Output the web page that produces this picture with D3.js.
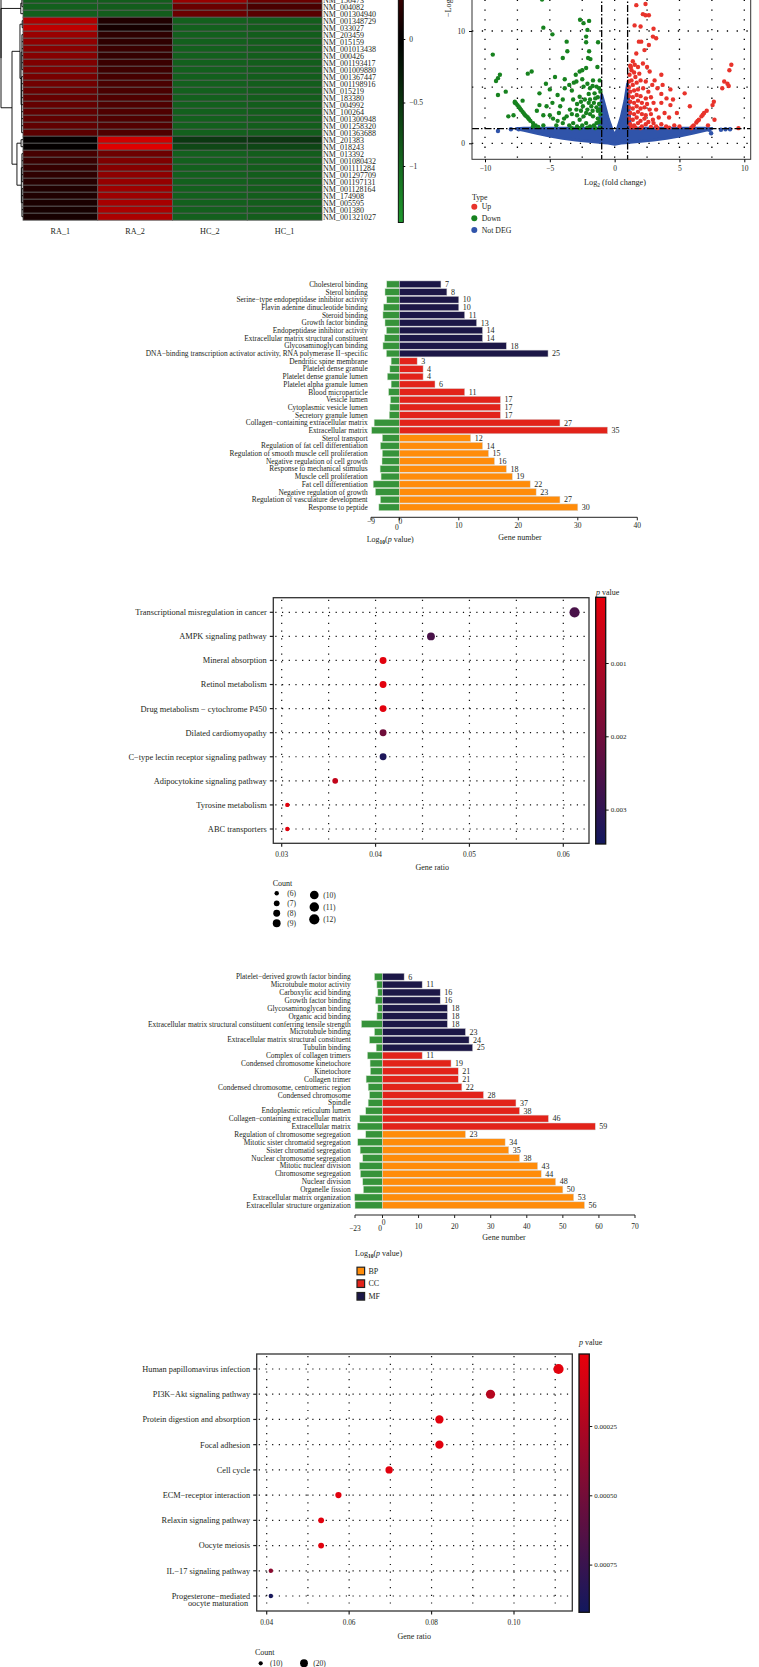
<!DOCTYPE html>
<html><head><meta charset="utf-8">
<script src="https://cdn.jsdelivr.net/npm/d3@7"></script>
<style>
body{margin:0;background:#fff}
svg{display:block}
text{font-family:"Liberation Serif",serif;fill:#231f20}
</style>
</head><body>
<svg id="c" width="759" height="1667"></svg>
<script>
// ================= DATA =================
// Heatmap
const heatCols = ["RA_1","RA_2","HC_2","HC_1"];
const heatGenes = ["NM_150473","NM_004082","NM_001304940","NM_001348729","NM_033027","NM_203459","NM_015159","NM_001013438","NM_000426","NM_001193417","NM_001009880","NM_001367447","NM_001198916","NM_015219","NM_183380","NM_004992","NM_100264","NM_001300948","NM_001258320","NM_001363688","NM_201383","NM_018243","NM_013392","NM_001080432","NM_001111284","NM_001297709","NM_001197131","NM_001128164","NM_174908","NM_005595","NM_001380","NM_001321027"];
const heatRA1 = [-0.9,-0.9,-0.9,1.0,1.08,0.87,0.82,0.78,0.76,0.72,0.72,0.68,0.64,0.6,0.58,0.57,0.55,0.55,0.55,0.52,0.02,0.02,0.4,0.33,0.3,0.27,0.22,0.18,0.18,0.15,0.13,0.13];
const heatRA2 = [-0.88,-0.88,-0.88,0.18,0.12,0.27,0.27,0.33,0.3,0.33,0.36,0.4,0.42,0.42,0.45,0.45,0.45,0.45,0.48,0.45,1.18,1.27,0.62,0.72,0.76,0.8,0.85,0.9,0.9,0.95,0.97,0.97];
const heatHC2 = [0.87,0.6,0.6,-0.9,-0.9,-0.9,-0.9,-0.9,-0.9,-0.9,-0.9,-0.9,-0.9,-0.9,-0.9,-0.9,-0.9,-0.9,-0.9,-0.9,-0.53,-0.68,-0.9,-0.9,-0.9,-0.9,-0.9,-0.9,-0.9,-0.9,-0.9,-0.9];
const heatHC1 = [0.6,0.42,0.5,-0.88,-0.88,-0.88,-0.88,-0.88,-0.88,-0.88,-0.88,-0.88,-0.88,-0.88,-0.88,-0.88,-0.88,-0.88,-0.88,-0.88,-0.5,-0.66,-0.88,-0.88,-0.88,-0.88,-0.88,-0.88,-0.88,-0.88,-0.88,-0.88];
const heatTicks = [0,-0.5,-1];
const heatTree = {h:4,c:[{h:0.4,c:[{h:0.2,c:[0,1]},2]},{h:2,c:[{h:0.55,c:[{h:0.15,c:[3,4]},{h:0.35,c:[{h:0.2,c:[5,6,7,8,9,10]},{h:0.25,c:[11,12,13,14,15,16,17,18,19]}]}]},{h:1.1,c:[{h:0.35,c:[20,21]},{h:0.3,c:[{h:0.2,c:[22,23,24,25,26]},{h:0.2,c:[27,28,29,30,31]}]}]}]}]};

// Volcano
const volcXTicks = [-10,-5,0,5,10];
const volcXMinor = [-7.5,-2.5,2.5,7.5];
const volcYTicks = [0,10];
const volcYMinor = [5];
const volcTypes = ["Up","Down","Not DEG"];
const upPts = [[1.67,12.3],[2.38,12.4],[2.18,11.5],[2.38,11.4],[2.64,11.4],[1.54,10.5],[2.0,10.4],[3.0,10.2],[2.95,9.5],[3.2,9.35],[1.87,9.05],[2.05,9.05],[1.67,8.0],[2.3,8.3],[2.64,8.75],[1.4,7.3],[1.8,6.8],[2.18,7.1],[1.55,7.0],[1.2,6.9],[1.3,6.5],[1.15,6.1],[1.5,6.3],[1.9,6.2],[2.7,6.4],[3.08,5.6],[3.6,6.1],[3.7,5.2],[4.3,4.8],[5.4,4.45],[5.8,3.3],[4.0,4.0],[4.5,3.9],[3.6,3.6],[3.2,3.0],[3.85,2.7],[2.95,2.1],[3.2,1.5],[3.97,1.5],[9.0,7.0],[8.85,6.5],[8.45,5.5],[8.7,5.3],[8.8,5.1],[8.3,4.9],[7.65,3.7],[7.55,3.4],[7.7,2.1],[7.2,1.6],[9.55,1.35],[5.9,1.35],[6.1,1.6],[6.3,1.85],[6.5,2.1],[6.7,2.4],[6.9,2.7],[7.1,2.9],[6.0,1.5],[6.4,2.0],[6.8,2.55],[1.1,5.5],[1.3,5.6],[1.1,5.0],[1.4,5.2],[1.7,5.4],[2.0,5.6],[2.4,5.5],[1.2,4.6],[1.5,4.7],[1.8,4.8],[2.2,4.9],[2.6,4.6],[1.1,4.2],[1.4,4.1],[1.7,4.3],[2.0,4.2],[2.4,4.0],[2.8,4.1],[1.2,3.7],[1.5,3.6],[1.8,3.8],[2.1,3.6],[2.5,3.5],[3.0,3.6],[1.1,3.2],[1.4,3.1],[1.7,3.3],[2.0,3.1],[2.3,3.2],[2.7,3.0],[1.2,2.7],[1.5,2.6],[1.8,2.8],[2.1,2.6],[2.4,2.5],[2.8,2.6],[3.4,2.3],[1.1,2.2],[1.4,2.1],[1.7,2.3],[2.0,2.0],[2.3,2.2],[2.6,1.9],[3.0,1.8],[1.2,1.7],[1.5,1.6],[1.8,1.8],[2.1,1.5],[2.4,1.7],[2.8,1.45],[3.6,1.7],[4.2,1.4],[4.6,1.6],[5.0,1.5],[1.3,1.4],[1.6,1.4],[2.0,1.35],[3.3,1.35],[4.3,3.4],[4.8,2.7],[4.2,2.3],[3.6,4.4],[3.3,4.9],[2.9,5.2],[1.6,5.9],[1.25,6.8],[2.5,6.8]];
const downPts = [[-5.6,12.8],[-5.5,10.3],[-4.8,9.7],[-9.4,7.9],[-4.0,7.6],[-3.7,9.05],[-3.65,8.2],[-2.67,11.0],[-2.4,10.7],[-1.97,10.9],[-2.1,10.1],[-2.2,9.5],[-2.2,9.0],[-1.97,8.2],[-1.87,7.5],[-2.05,7.6],[-1.28,9.0],[-1.33,6.8],[-6.7,6.2],[-6.4,6.4],[-8.85,6.1],[-9.0,5.8],[-9.15,5.55],[-8.4,4.6],[-9.0,4.3],[-8.2,2.4],[-7.8,2.5],[-7.1,3.8],[-7.7,3.6],[-5.3,5.3],[-4.6,5.9],[-3.85,5.7],[-5.8,4.45],[-5.25,3.3],[-5.5,2.5],[-5.0,2.5],[-5.5,1.6],[-4.75,2.2],[-4.2,3.3],[-4.0,3.9],[-3.85,4.9],[-3.3,4.7],[-3.15,5.4],[-2.95,5.5],[-2.7,6.4],[-2.5,6.5],[-2.2,6.7],[-2.4,5.05],[-2.7,4.15],[-3.2,3.9],[-3.45,3.0],[-3.7,2.4],[-2.95,3.0],[-2.45,3.3],[-1.9,3.9],[-1.55,4.45],[-1.4,5.05],[-1.15,5.6],[-1.67,5.6],[-1.9,4.9],[-2.2,2.7],[-1.67,2.4],[-2.7,2.1],[-2.2,1.8],[-1.4,1.8],[-1.15,3.0],[-3.2,1.8],[-4.0,1.8],[-6.3,1.5],[-7.7,3.7],[-7.5,3.4],[-7.3,3.1],[-7.1,2.8],[-6.9,2.5],[-6.7,2.3],[-6.5,2.0],[-6.3,1.8],[-6.1,1.6],[-5.9,1.45],[-7.6,3.55],[-7.4,3.25],[-7.2,2.95],[-7.0,2.65],[-6.8,2.4],[-6.6,2.15],[-1.1,4.6],[-1.3,4.1],[-1.6,3.6],[-1.2,3.5],[-1.4,3.2],[-1.8,3.3],[-2.0,3.6],[-2.3,3.9],[-2.6,3.7],[-2.9,3.5],[-1.1,2.6],[-1.3,2.2],[-1.9,2.6],[-2.4,2.4],[-2.9,2.5],[-3.3,2.6],[-1.2,1.9],[-1.6,1.6],[-1.9,1.5],[-2.5,1.6],[-2.9,1.5],[-3.5,1.6],[-3.9,2.2],[-4.4,2.0],[-4.5,1.6],[-1.1,1.4],[-1.5,1.35],[-2.1,1.4],[-2.7,1.35],[-3.3,1.35],[-1.3,2.9],[-1.7,2.9],[-2.1,3.0],[-2.6,2.9],[-1.5,4.0],[-2.0,4.4],[-1.2,4.9],[-1.7,5.1],[-2.1,5.3],[-2.5,5.7],[-3.0,6.1],[-3.5,5.2],[-4.4,4.3],[-4.8,3.6],[-5.0,4.8],[-6.0,2.9],[-5.8,3.4],[-4.3,2.7]];
const notDegPts = [[-9.0,1.1],[-8.0,1.25],[7.44,0.9],[8.2,1.2],[8.55,1.25],[8.9,1.25],[-7.4,1.25],[7.3,1.2]];
const ndX    = [-7.6,-7.0,-6.0,-5.0,-4.0,-3.0,-2.0,-1.2,-1.0,-0.8,-0.5,-0.2,0,0.2,0.5,0.8,1.0,1.2,2.0,3.0,4.0,5.0,6.0,7.0,7.5];
const ndLow  = [1.3,1.15,0.9,0.65,0.45,0.3,0.18,0.1,0.08,0.05,0.02,-0.05,-0.08,-0.05,0.02,0.05,0.08,0.1,0.18,0.3,0.45,0.65,0.9,1.15,1.3];
const ndHigh = [1.3,1.35,1.35,1.35,1.35,1.35,1.35,1.35,4.3,3.5,2.2,1.2,0.7,1.2,2.3,3.8,5.3,1.35,1.35,1.35,1.35,1.35,1.35,1.35,1.3];
const fcCut = [-1,1];
const pCut = 1.3;

// GO panel 1
const go1Terms = ["Cholesterol binding","Sterol binding","Serine\u2212type endopeptidase inhibitor activity","Flavin adenine dinucleotide binding","Steroid binding","Growth factor binding","Endopeptidase inhibitor activity","Extracellular matrix structural constituent","Glycosaminoglycan binding","DNA\u2212binding transcription activator activity, RNA polymerase II\u2212specific","Dendritic spine membrane","Platelet dense granule","Platelet dense granule lumen","Platelet alpha granule lumen","Blood microparticle","Vesicle lumen","Cytoplasmic vesicle lumen","Secretory granule lumen","Collagen\u2212containing extracellular matrix","Extracellular matrix","Sterol transport","Regulation of fat cell differentiation","Regulation of smooth muscle cell proliferation","Negative regulation of cell growth","Response to mechanical stimulus","Muscle cell proliferation","Fat cell differentiation","Negative regulation of growth","Regulation of vasculature development","Response to peptide"];
const go1Counts = [7,8,10,10,11,13,14,14,18,25,3,4,4,6,11,17,17,17,27,35,12,14,15,16,18,19,22,23,27,30];
const go1LogP = [-4.0,-4.55,-4.0,-5.0,-5.2,-4.55,-4.1,-4.7,-5.2,-4.1,-2.6,-3.0,-3.8,-2.6,-3.4,-2.8,-3.0,-3.2,-8.0,-8.8,-5.4,-6.0,-5.4,-5.5,-6.1,-5.8,-8.3,-7.6,-6.0,-6.5];
const go1Ont = ["MF","MF","MF","MF","MF","MF","MF","MF","MF","MF","CC","CC","CC","CC","CC","CC","CC","CC","CC","CC","BP","BP","BP","BP","BP","BP","BP","BP","BP","BP"];
const go1LeftTicks = [-9,0];
const go1RightTicks = [0,10,20,30,40];

// GO panel 2
const go2Terms = ["Platelet\u2212derived growth factor binding","Microtubule motor activity","Carboxylic acid binding","Growth factor binding","Glycosaminoglycan binding","Organic acid binding","Extracellular matrix structural constituent conferring tensile strength","Microtubule binding","Extracellular matrix structural constituent","Tubulin binding","Complex of collagen trimers","Condensed chromosome kinetochore","Kinetochore","Collagen trimer","Condensed chromosome, centromeric region","Condensed chromosome","Spindle","Endoplasmic reticulum lumen","Collagen\u2212containing extracellular matrix","Extracellular matrix","Regulation of chromosome segregation","Mitotic sister chromatid segregation","Sister chromatid segregation","Nuclear chromosome segregation","Mitotic nuclear division","Chromosome segregation","Nuclear division","Organelle fission","Extracellular matrix organization","Extracellular structure organization"];
const go2Counts = [6,11,16,16,18,18,18,23,24,25,11,19,21,21,22,28,37,38,46,59,23,34,35,38,43,44,48,50,53,56];
const go2LogP = [-6.7,-4.7,-3.9,-5.9,-3.9,-4.7,-17.6,-6.7,-10.9,-5.3,-12.6,-10.4,-10.1,-13.7,-12.0,-10.9,-12.0,-14.0,-19.0,-21.0,-14.0,-20.7,-18.7,-16.5,-19.3,-18.5,-16.5,-16.0,-23.3,-23.0];
const go2Ont = go1Ont.slice();
const go2LeftTicks = [-23,0];
const go2RightTicks = [0,10,20,30,40,50,60,70];
const goLegend = ["BP","CC","MF"];

// KEGG panel 1
const kegg1Terms = ["Transcriptional misregulation in cancer","AMPK signaling pathway","Mineral absorption","Retinol metabolism","Drug metabolism \u2212 cytochrome P450","Dilated cardiomyopathy","C\u2212type lectin receptor signaling pathway","Adipocytokine signaling pathway","Tyrosine metabolism","ABC transporters"];
const kegg1Ratio = [0.0612,0.0459,0.0408,0.0408,0.0408,0.0408,0.0408,0.0357,0.0306,0.0306];
const kegg1Count = [12,9,8,8,8,8,8,7,6,6];
const kegg1P = [0.0026,0.0026,0.0002,0.0002,0.0002,0.0020,0.0033,0.0007,0.0002,0.0002];
const kegg1XTicks = [0.03,0.04,0.05,0.06];
const kegg1XMinor = [0.035,0.045,0.055];
const kegg1PTicks = [0.001,0.002,0.003];
const kegg1LegendCounts = [6,7,8,9,10,11,12];

// KEGG panel 2
const kegg2Terms = ["Human papillomavirus infection","PI3K\u2212Akt signaling pathway","Protein digestion and absorption","Focal adhesion","Cell cycle","ECM\u2212receptor interaction","Relaxin signaling pathway","Oocyte meiosis","IL\u221217 signaling pathway","Progesterone\u2212mediated|oocyte maturation"];
const kegg2Ratio = [0.1108,0.0943,0.0819,0.0819,0.0697,0.0574,0.0532,0.0532,0.0410,0.0410];
const kegg2Count = [27,23,20,20,17,14,13,13,10,10];
const kegg2P = [0.00002,0.00022,0.00003,0.00003,0.00003,0.00003,0.00003,0.00003,0.0004,0.0009];
const kegg2XTicks = [0.04,0.06,0.08,0.10];
const kegg2XMinor = [0.05,0.07,0.09,0.11];
const kegg2PTicks = [0.00025,0.0005,0.00075];
const kegg2LegendCounts = [10,20];

// ================= DRAW =================
const svg = d3.select("#c");
const defs = svg.append("defs");
const minus = s => String(s).replace("-","\u2212");

// ---------- Heatmap ----------
(function(){
  const g = svg.append("g");
  const hx = d3.scaleBand().domain(heatCols).range([23,322]);
  const rowH = 7.0, top = -3.8;
  const hy = d3.scaleBand().domain(d3.range(heatGenes.length)).range([top, top + rowH*heatGenes.length]);
  const hColor = d3.scaleLinear().domain([-1.45,0,1.45]).range(["#1f9a2e","#000000","#ff0000"]).clamp(true);
  const vals = [heatRA1,heatRA2,heatHC2,heatHC1];
  heatCols.forEach((c,ci)=>{
    g.selectAll(null).data(vals[ci]).enter().append("rect")
      .attr("x",hx(c)).attr("y",(d,i)=>hy(i)).attr("width",hx.bandwidth()).attr("height",hy.bandwidth())
      .attr("fill",d=>hColor(d)).attr("stroke","#5a5a5a").attr("stroke-width",0.8);
  });
  g.selectAll(null).data(heatGenes).enter().append("text")
    .attr("x",323).attr("y",(d,i)=>hy(i)+hy.bandwidth()/2).attr("dy","0.35em")
    .attr("font-size",8).text(d=>d);
  g.selectAll(null).data(heatCols).enter().append("text")
    .attr("x",d=>hx(d)+hx.bandwidth()/2).attr("y",231).attr("dy","0.35em")
    .attr("text-anchor","middle").attr("font-size",8.2).text(d=>d);
  const dx = d3.scaleLinear().domain([0,4]).range([23,1]);
  function node(n){
    if (typeof n === "number") return {x:hx.range()[0], y:hy(n)+hy.bandwidth()/2};
    const ch = n.c.map(node);
    const x = dx(n.h), y = d3.mean(ch,d=>d.y);
    g.append("line").attr("x1",x).attr("x2",x).attr("y1",d3.min(ch,d=>d.y)).attr("y2",d3.max(ch,d=>d.y)).attr("stroke","#000").attr("stroke-width",0.9);
    ch.forEach(c=> g.append("line").attr("x1",x).attr("x2",c.x).attr("y1",c.y).attr("y2",c.y).attr("stroke","#000").attr("stroke-width",0.9));
    return {x,y};
  }
  const r = node(heatTree);
  g.append("line").attr("x1",r.x).attr("x2",r.x).attr("y1",-10).attr("y2",r.y).attr("stroke","#000").attr("stroke-width",0.9);
  const cbY = d3.scaleLinear().domain([0,-1]).range([39,166]);
  const y0 = -2, y1 = 222.5;
  const grad = defs.append("linearGradient").attr("id","hgrad").attr("x1",0).attr("x2",0).attr("y1",0).attr("y2",1);
  d3.range(0,1.0001,0.05).forEach(t=>{
    grad.append("stop").attr("offset",t).attr("stop-color",hColor(cbY.invert(y0+(y1-y0)*t)));
  });
  g.append("rect").attr("x",398.3).attr("y",y0).attr("width",5).attr("height",y1-y0).attr("fill","url(#hgrad)").attr("stroke","#000").attr("stroke-width",0.9);
  const ax = g.append("g").attr("transform","translate(403.3,0)")
    .call(d3.axisRight(cbY).tickValues(heatTicks).tickSize(2).tickPadding(4).tickFormat(d=>minus(d)));
  ax.select(".domain").remove();
  ax.selectAll("text").attr("font-size",7.5).attr("font-family","Liberation Serif").attr("fill","#231f20");
})();

// ---------- Volcano ----------
(function(){
  const g = svg.append("g");
  const vx = d3.scaleLinear().domain([-10,10]).range([485,744.3]);
  const vy = d3.scaleLinear().domain([0,10]).range([143.3,31]);
  const fL=472, fR=750.7, fB=159.3, fT=-20;
  const dot = sel => sel.attr("stroke","#000").attr("stroke-width",1.3).attr("stroke-dasharray","1.3,8.5").attr("stroke-linecap","butt");
  volcXTicks.concat(volcXMinor).forEach(v=> dot(g.append("line").attr("x1",vx(v)).attr("x2",vx(v)).attr("y1",fT).attr("y2",fB)));
  volcYTicks.concat(volcYMinor).forEach(v=> dot(g.append("line").attr("x1",fL).attr("x2",fR).attr("y1",vy(v)).attr("y2",vy(v))));
  const colors = {"Up":"#e8332b","Down":"#17821f","Not DEG":"#3054aa"};
  const area = d3.area().x(d=>vx(d[0])).y0(d=>vy(d[1])).y1(d=>vy(d[2]));
  g.append("path").datum(ndX.map((x,i)=>[x,ndLow[i],ndHigh[i]])).attr("d",area)
    .attr("fill",colors["Not DEG"]).attr("stroke",colors["Not DEG"]).attr("stroke-width",3).attr("stroke-linejoin","round");
  const pts = (data,col)=> g.selectAll(null).data(data).enter().append("circle")
    .attr("cx",d=>vx(d[0])).attr("cy",d=>vy(d[1])).attr("r",2.2).attr("fill",col);
  pts(notDegPts,colors["Not DEG"]);
  pts(downPts,colors["Down"]);
  pts(upPts,colors["Up"]);
  const dd = sel => sel.attr("stroke","#000").attr("stroke-width",1.3).attr("stroke-dasharray","7,2,1.5,2");
  fcCut.forEach(v=> dd(g.append("line").attr("x1",vx(v)).attr("x2",vx(v)).attr("y1",fT).attr("y2",fB)));
  dd(g.append("line").attr("x1",fL).attr("x2",fR).attr("y1",vy(pCut)).attr("y2",vy(pCut)));
  g.append("rect").attr("x",fL).attr("y",fT).attr("width",fR-fL).attr("height",fB-fT).attr("fill","none").attr("stroke","#333").attr("stroke-width",1);
  const xa = g.append("g").attr("transform",`translate(0,${fB})`).call(d3.axisBottom(vx).tickValues(volcXTicks).tickSize(3).tickPadding(3).tickFormat(d=>minus(d)));
  xa.select(".domain").remove();
  const ya = g.append("g").attr("transform",`translate(${fL},0)`).call(d3.axisLeft(vy).tickValues(volcYTicks).tickSize(3).tickPadding(4));
  ya.select(".domain").remove();
  g.selectAll(".tick text").attr("font-size",7.5).attr("font-family","Liberation Serif").attr("fill","#231f20");
  const xl = g.append("text").attr("x",615).attr("y",182).attr("dy","0.35em").attr("text-anchor","middle").attr("font-size",8.2);
  xl.append("tspan").text("Log");
  xl.append("tspan").attr("font-size",5.5).attr("dy","2").text("2");
  xl.append("tspan").attr("dy","-2").text(" (fold change)");
  const yl = g.append("text").attr("transform","translate(451,17) rotate(-90)").attr("font-size",8.2);
  yl.append("tspan").text("\u2212Log");
  yl.append("tspan").attr("font-size",5.5).attr("dy","2").text("10");
  yl.append("tspan").attr("dy","-2").text("(");
  yl.append("tspan").attr("font-style","italic").text("p");
  yl.append("tspan").text(" value)");
  g.append("text").attr("x",472).attr("y",197).attr("dy","0.35em").attr("font-size",7.8).text("Type");
  volcTypes.forEach((t,i)=>{
    g.append("circle").attr("cx",474.3).attr("cy",206.7+i*11.65).attr("r",3).attr("fill",colors[t]);
    g.append("text").attr("x",481.7).attr("y",206.7+i*11.65).attr("dy","0.35em").attr("font-size",7.8).text(t);
  });
})();

// ---------- GO bar charts ----------
const ontColor = {MF:"#1c1747", CC:"#e2231a", BP:"#ff8c0a"};
function goChart(o){
  const g = svg.append("g");
  const xl = d3.scaleLinear().domain([o.leftTicks[0],0]).range([o.leftX,o.zero]);
  const xr = d3.scaleLinear().domain([0,o.rightTicks[o.rightTicks.length-1]]).range([o.zero,o.rightX]);
  const y = d3.scaleBand().domain(d3.range(o.terms.length)).range([o.yFirst-o.pitch/2, o.yLast+o.pitch/2]).paddingInner(0.12).paddingOuter(0.06);
  g.selectAll(null).data(o.logp).enter().append("rect")
    .attr("x",d=>xl(d)).attr("y",(d,i)=>y(i)).attr("width",d=>o.zero-xl(d)).attr("height",y.bandwidth())
    .attr("fill","#36933a").attr("stroke","#cfe3cc").attr("stroke-width",0.5);
  g.selectAll(null).data(o.counts).enter().append("rect")
    .attr("x",o.zero).attr("y",(d,i)=>y(i)).attr("width",d=>xr(d)-o.zero).attr("height",y.bandwidth())
    .attr("fill",(d,i)=>ontColor[o.ont[i]]).attr("stroke","#d8d8d8").attr("stroke-width",0.5);
  g.selectAll(null).data(o.counts).enter().append("text")
    .attr("x",d=>xr(d)+4).attr("y",(d,i)=>y(i)+y.bandwidth()/2).attr("dy","0.35em")
    .attr("font-size",8).text(d=>d);
  g.selectAll(null).data(o.terms).enter().append("text")
    .attr("x",o.labelX).attr("y",(d,i)=>y(i)+y.bandwidth()/2).attr("dy","0.35em")
    .attr("text-anchor","end").attr("font-size",7.4).text(d=>d);
  g.append("line").attr("x1",o.leftX).attr("x2",o.rightX).attr("y1",o.axisY).attr("y2",o.axisY).attr("stroke","#222").attr("stroke-width",1);
  o.leftTicks.forEach((t,i)=>{
    g.append("line").attr("x1",xl(t)).attr("x2",xl(t)).attr("y1",o.axisY).attr("y2",o.axisY+3).attr("stroke","#222");
    g.append("text").attr("x",xl(t)-(t===0?2.5:0)).attr("y",o.axisY+o.leftLabDy[i]).attr("dy","0.35em").attr("text-anchor","middle").attr("font-size",7.5).text(minus(t));
  });
  o.rightTicks.forEach(t=>{
    g.append("line").attr("x1",xr(t)).attr("x2",xr(t)).attr("y1",o.axisY).attr("y2",o.axisY+3).attr("stroke","#222");
    g.append("text").attr("x",xr(t)+(t===0?1:0)).attr("y",o.axisY+(t===0?o.rightZeroDy:o.rightLabDy)).attr("dy","0.35em").attr("text-anchor","middle").attr("font-size",7.5).text(t);
  });
  const lp = g.append("text").attr("x",o.logX).attr("y",o.logY).attr("dy","0.35em").attr("font-size",8);
  lp.append("tspan").text("Log");
  lp.append("tspan").attr("font-size",5.5).attr("dy","2").attr("font-weight","bold").text("10");
  lp.append("tspan").attr("dy","-2").text("(");
  lp.append("tspan").attr("font-style","italic").text("p");
  lp.append("tspan").text(" value)");
  g.append("text").attr("x",o.gnX).attr("y",o.gnY).attr("dy","0.35em").attr("text-anchor","middle").attr("font-size",8).text("Gene number");
  return g;
}
goChart({terms:go1Terms,counts:go1Counts,logp:go1LogP,ont:go1Ont,leftTicks:go1LeftTicks,rightTicks:go1RightTicks,
  leftX:371,zero:399.3,rightX:637.3,yFirst:284.3,yLast:507.3,pitch:7.69,labelX:367.7,axisY:517.3,
  leftLabDy:[3.7,10.2],rightZeroDy:4.2,rightLabDy:8,logX:366.7,logY:539,gnX:520,gnY:537.3});
const g2 = goChart({terms:go2Terms,counts:go2Counts,logp:go2LogP,ont:go2Ont,leftTicks:go2LeftTicks,rightTicks:go2RightTicks,
  leftX:355,zero:382.5,rightX:635,yFirst:976.7,yLast:1205.3,pitch:7.88,labelX:350.7,axisY:1215,
  leftLabDy:[13,13],rightZeroDy:7.7,rightLabDy:11,logX:355,logY:1253,gnX:504,gnY:1237});
goLegend.forEach((k,i)=>{
  g2.append("rect").attr("x",357).attr("y",1271+i*12.65-3.8).attr("width",7.6).attr("height",7.6)
    .attr("fill",ontColor[k]).attr("stroke","#222").attr("stroke-width",1.2);
  g2.append("text").attr("x",368.5).attr("y",1271+i*12.65).attr("dy","0.35em").attr("font-size",8).text(k);
});

// ---------- KEGG dot plots ----------
const pLow = "#e8000b", pHigh = "#12185e";
function dotPlot(o){
  const g = svg.append("g");
  const x = d3.scaleLinear().domain(o.xDom).range(o.xRange);
  const y = d3.scalePoint().domain(d3.range(o.terms.length)).range(o.yRange);
  const [fL,fT,fR,fB] = o.frame;
  const col = d3.scaleLinear().domain(o.pDom).range([pLow,pHigh]).clamp(true);
  const rad = d3.scaleRadial().domain(o.rDom).range(o.rRange);
  const dotted = sel => sel.attr("stroke","#111").attr("stroke-width",1.2).attr("stroke-dasharray","1.2,5.5");
  o.xTicks.concat(o.xMinor).forEach(v=> dotted(g.append("line").attr("x1",x(v)).attr("x2",x(v)).attr("y1",fT+2).attr("y2",fB-2)).attr("stroke-dasharray","1.2,6.5"));
  o.terms.forEach((t,i)=> dotted(g.append("line").attr("x1",fL+2).attr("x2",fR-2).attr("y1",y(i)).attr("y2",y(i))));
  g.selectAll(null).data(o.ratio).enter().append("circle")
    .attr("cx",d=>x(d)).attr("cy",(d,i)=>y(i)).attr("r",(d,i)=>rad(o.count[i])).attr("fill",(d,i)=>col(o.p[i]));
  g.append("rect").attr("x",fL).attr("y",fT).attr("width",fR-fL).attr("height",fB-fT).attr("fill","none").attr("stroke","#333").attr("stroke-width",1.3);
  o.terms.forEach((t,i)=>{
    g.append("line").attr("x1",fL-3.5).attr("x2",fL).attr("y1",y(i)).attr("y2",y(i)).attr("stroke","#222").attr("stroke-width",1.2);
    const parts = t.split("|");
    const tx = g.append("text").attr("x",fL-6.6).attr("y",y(i)).attr("text-anchor","end").attr("font-size",o.labFs);
    parts.forEach((p,j)=> tx.append("tspan").attr("x",fL-6.6 - (j>0?2:0)).attr("dy",j===0?"0.35em":"7").text(p));
  });
  o.xTicks.forEach(v=>{
    g.append("line").attr("x1",x(v)).attr("x2",x(v)).attr("y1",fB).attr("y2",fB+3.5).attr("stroke","#222").attr("stroke-width",1.2);
    g.append("text").attr("x",x(v)).attr("y",o.tickY).attr("dy","0.35em").attr("text-anchor","middle").attr("font-size",7.3).text(d3.format(o.fmt)(v));
  });
  g.append("text").attr("x",o.grX).attr("y",o.grY).attr("dy","0.35em").attr("text-anchor","middle").attr("font-size",8).text("Gene ratio");
  const [cL,cT,cR,cB] = o.cbar;
  const cy = d3.scaleLinear().domain([o.pTicks[0],o.pTicks[1]]).range([o.pTickY[0],o.pTickY[1]]);
  const gid = "pg"+o.id;
  const grad = defs.append("linearGradient").attr("id",gid).attr("x1",0).attr("x2",0).attr("y1",0).attr("y2",1);
  d3.range(0,1.0001,0.1).forEach(t=> grad.append("stop").attr("offset",t).attr("stop-color",col(cy.invert(cT+(cB-cT)*t))));
  g.append("rect").attr("x",cL).attr("y",cT).attr("width",cR-cL).attr("height",cB-cT).attr("fill",`url(#${gid})`).attr("stroke","#111").attr("stroke-width",1.3);
  const ca = g.append("g").attr("transform",`translate(${cR},0)`).call(d3.axisRight(cy).tickValues(o.pTicks).tickSize(3).tickPadding(2).tickFormat(d3.format(o.pFmt)));
  ca.select(".domain").remove();
  ca.selectAll("text").attr("font-size",7).attr("font-family","Liberation Serif").attr("fill","#231f20");
  ca.selectAll("line").attr("stroke","#111").attr("stroke-width",1);
  const pl = g.append("text").attr("x",o.pLab[0]).attr("y",o.pLab[1]).attr("dy","0.35em").attr("font-size",8);
  pl.append("tspan").attr("font-style","italic").text("p");
  pl.append("tspan").text(" value");
  g.append("text").attr("x",o.cntLab[0]).attr("y",o.cntLab[1]).attr("dy","0.35em").attr("font-size",8).text("Count");
  o.legendCounts.forEach((c,i)=>{
    const p = o.legendPos[i];
    g.append("circle").attr("cx",p[0]).attr("cy",p[1]).attr("r",rad(c)*o.legScale).attr("fill","#000");
    g.append("text").attr("x",p[2]).attr("y",p[1]).attr("dy","0.35em").attr("font-size",7.5).text(`(${c})`);
  });
}
dotPlot({id:1,terms:kegg1Terms,ratio:kegg1Ratio,count:kegg1Count,p:kegg1P,labFs:8.4,
  xDom:[0.03,0.06],xRange:[281.7,563.3],yRange:[612.3,829],frame:[273.3,597.7,589,843.3],
  xTicks:kegg1XTicks,xMinor:kegg1XMinor,fmt:".2f",tickY:854.3,grX:432.3,grY:867.3,
  pDom:[0.0001,0.00347],rDom:[6,12],rRange:[2.2,5.1],
  cbar:[595.7,597.3,605.7,844],pTicks:kegg1PTicks,pTickY:[663,736.3],pFmt:".3f",pLab:[596,592],
  cntLab:[272.7,883.3],legendCounts:kegg1LegendCounts,legScale:1,
  legendPos:[[276.7,893.3,287.3],[276.7,903.3,287.3],[276.7,913.3,287.3],[276.7,923.3,287.3],[314.3,895,323.3],[314.3,907,323.3],[314.3,919.3,323.3]]});
dotPlot({id:2,terms:kegg2Terms,ratio:kegg2Ratio,count:kegg2Count,p:kegg2P,labFs:8.3,
  xDom:[0.04,0.10],xRange:[266.7,514],yRange:[1369,1596],frame:[256.7,1354,572.3,1611],
  xTicks:kegg2XTicks,xMinor:kegg2XMinor,fmt:".2f",tickY:1622.3,grX:414.3,grY:1635.7,
  pDom:[0,0.00092],rDom:[10,27],rRange:[2.2,5.1],
  cbar:[579,1354,589.3,1612.3],pTicks:kegg2PTicks,pTickY:[1426,1495.3],pFmt:".5f",pLab:[579,1342],
  cntLab:[255,1652.3],legendCounts:kegg2LegendCounts,legScale:0.95,
  legendPos:[[260.7,1663.3,270],[304,1663.3,313.3]]});
</script>
</body></html>
